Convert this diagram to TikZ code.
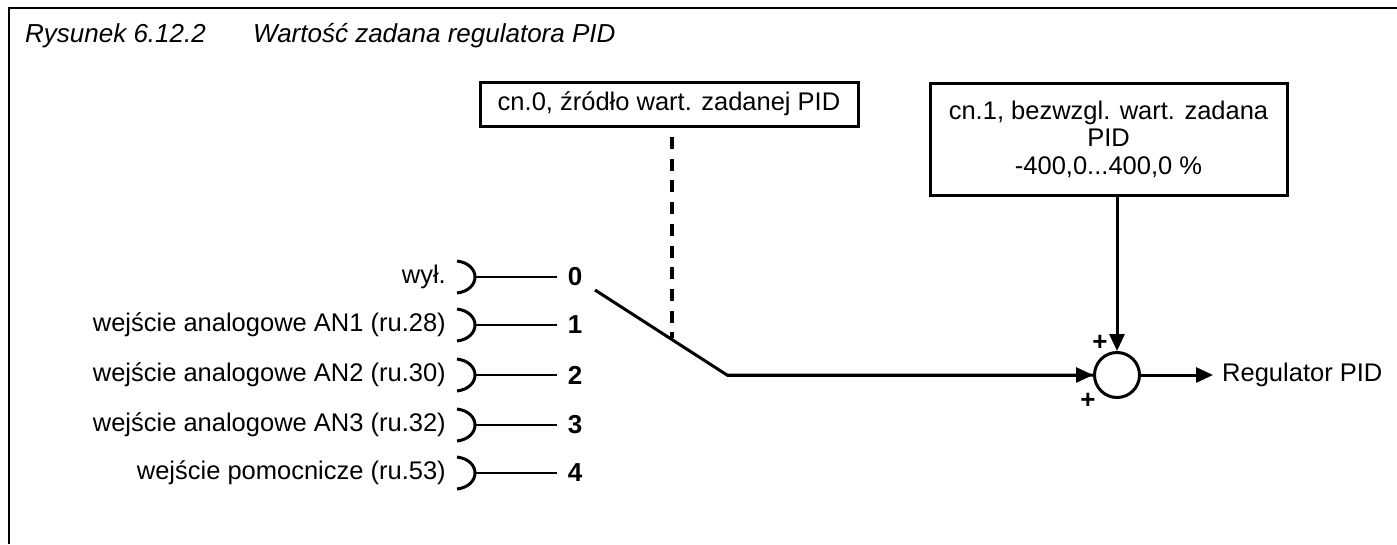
\documentclass[tikz,border=0pt]{standalone}
\usepackage{fontspec}
\setmainfont{Liberation Sans}
\usetikzlibrary{arrows.meta}
\begin{document}
\begin{tikzpicture}[x=1pt,y=-1pt,
  every node/.style={font=\fontsize{25.5}{27.5}\selectfont},
  frameline/.style={line width=2pt},
  boxnode/.style={draw,line width=3pt,inner sep=0pt,align=center},
  thickline/.style={line width=3pt},
  thinline/.style={line width=1.4pt},
  bracket/.style={line width=3pt},
  arr/.style={thickline,-{Triangle[length=17pt,width=15pt]}},
  dashline/.style={line width=3.2pt,dash pattern=on 12pt off 9.7pt},
  numnode/.style={inner sep=0pt,font=\fontsize{26}{27.5}\selectfont\bfseries},
  lblnode/.style={inner sep=0pt,anchor=east},
  titlenode/.style={inner sep=0pt,anchor=west,font=\fontsize{26}{28}\selectfont\itshape}]
\useasboundingbox (0,0) rectangle (1397,544);
\draw[frameline] (1397,8) -- (9,8) -- (9,544);
\node[titlenode] (t1) at (25,36) {Rysunek 6.12.2};
\node[titlenode] (t2) at (253,36) {Wartość zadana regulatora PID};
\node[boxnode,minimum width=378pt,minimum height=44pt] (box1) at (669,104) {cn.0, źródło wart. zadanej PID};
\node[boxnode,minimum width=357pt,minimum height=112pt] (box2) at (1108.5,139) {cn.1, bezwzgl. wart. zadana\\PID\\-400,0...400,0 \%};
\node[draw,circle,line width=3pt,minimum size=45pt,inner sep=0pt] (sum) at (1117,375) {};
\node[inner sep=0pt,anchor=west] (out) at (1222,375) {Regulator PID};
\node[numnode] (p1) at (1100,343) {+};
\node[numnode] (p2) at (1088,401) {+};
% inputs
\foreach \i/\y/\t in {0/277/{wył.},1/325/{wejście analogowe AN1 (ru.28)},2/375/{wejście analogowe AN2 (ru.30)},3/425/{wejście analogowe AN3 (ru.32)},4/473/{wejście pomocnicze (ru.53)}}{
  \node[lblnode] (l\i) at (446,\y) {\t};
  \coordinate (b\i) at (475,\y);
  \coordinate (e\i) at (557,\y);
  \node[numnode] (n\i) at (575,\y) {\i};
  \draw[bracket] (457,\y-16) .. controls (481,\y-13) and (481,\y+13) .. (457,\y+16);
  \draw[thinline] (b\i) -- (e\i);
}
\coordinate (sw0) at (595,290);
\coordinate (sw1) at (727,375);
\coordinate (d1) at (672,137);
\coordinate (d2) at (672,338);
\draw[thickline,line join=miter] (sw0) -- (sw1) -- (sum.west);
\draw[arr] (sw1) -- (sum.west);
\draw[dashline] (d1) -- (d2);
\draw[arr] (box2.south -| sum) -- (sum.north);
\draw[arr] (sum.east) -- ([xshift=-9pt]out.west);
\end{tikzpicture}
\end{document}
